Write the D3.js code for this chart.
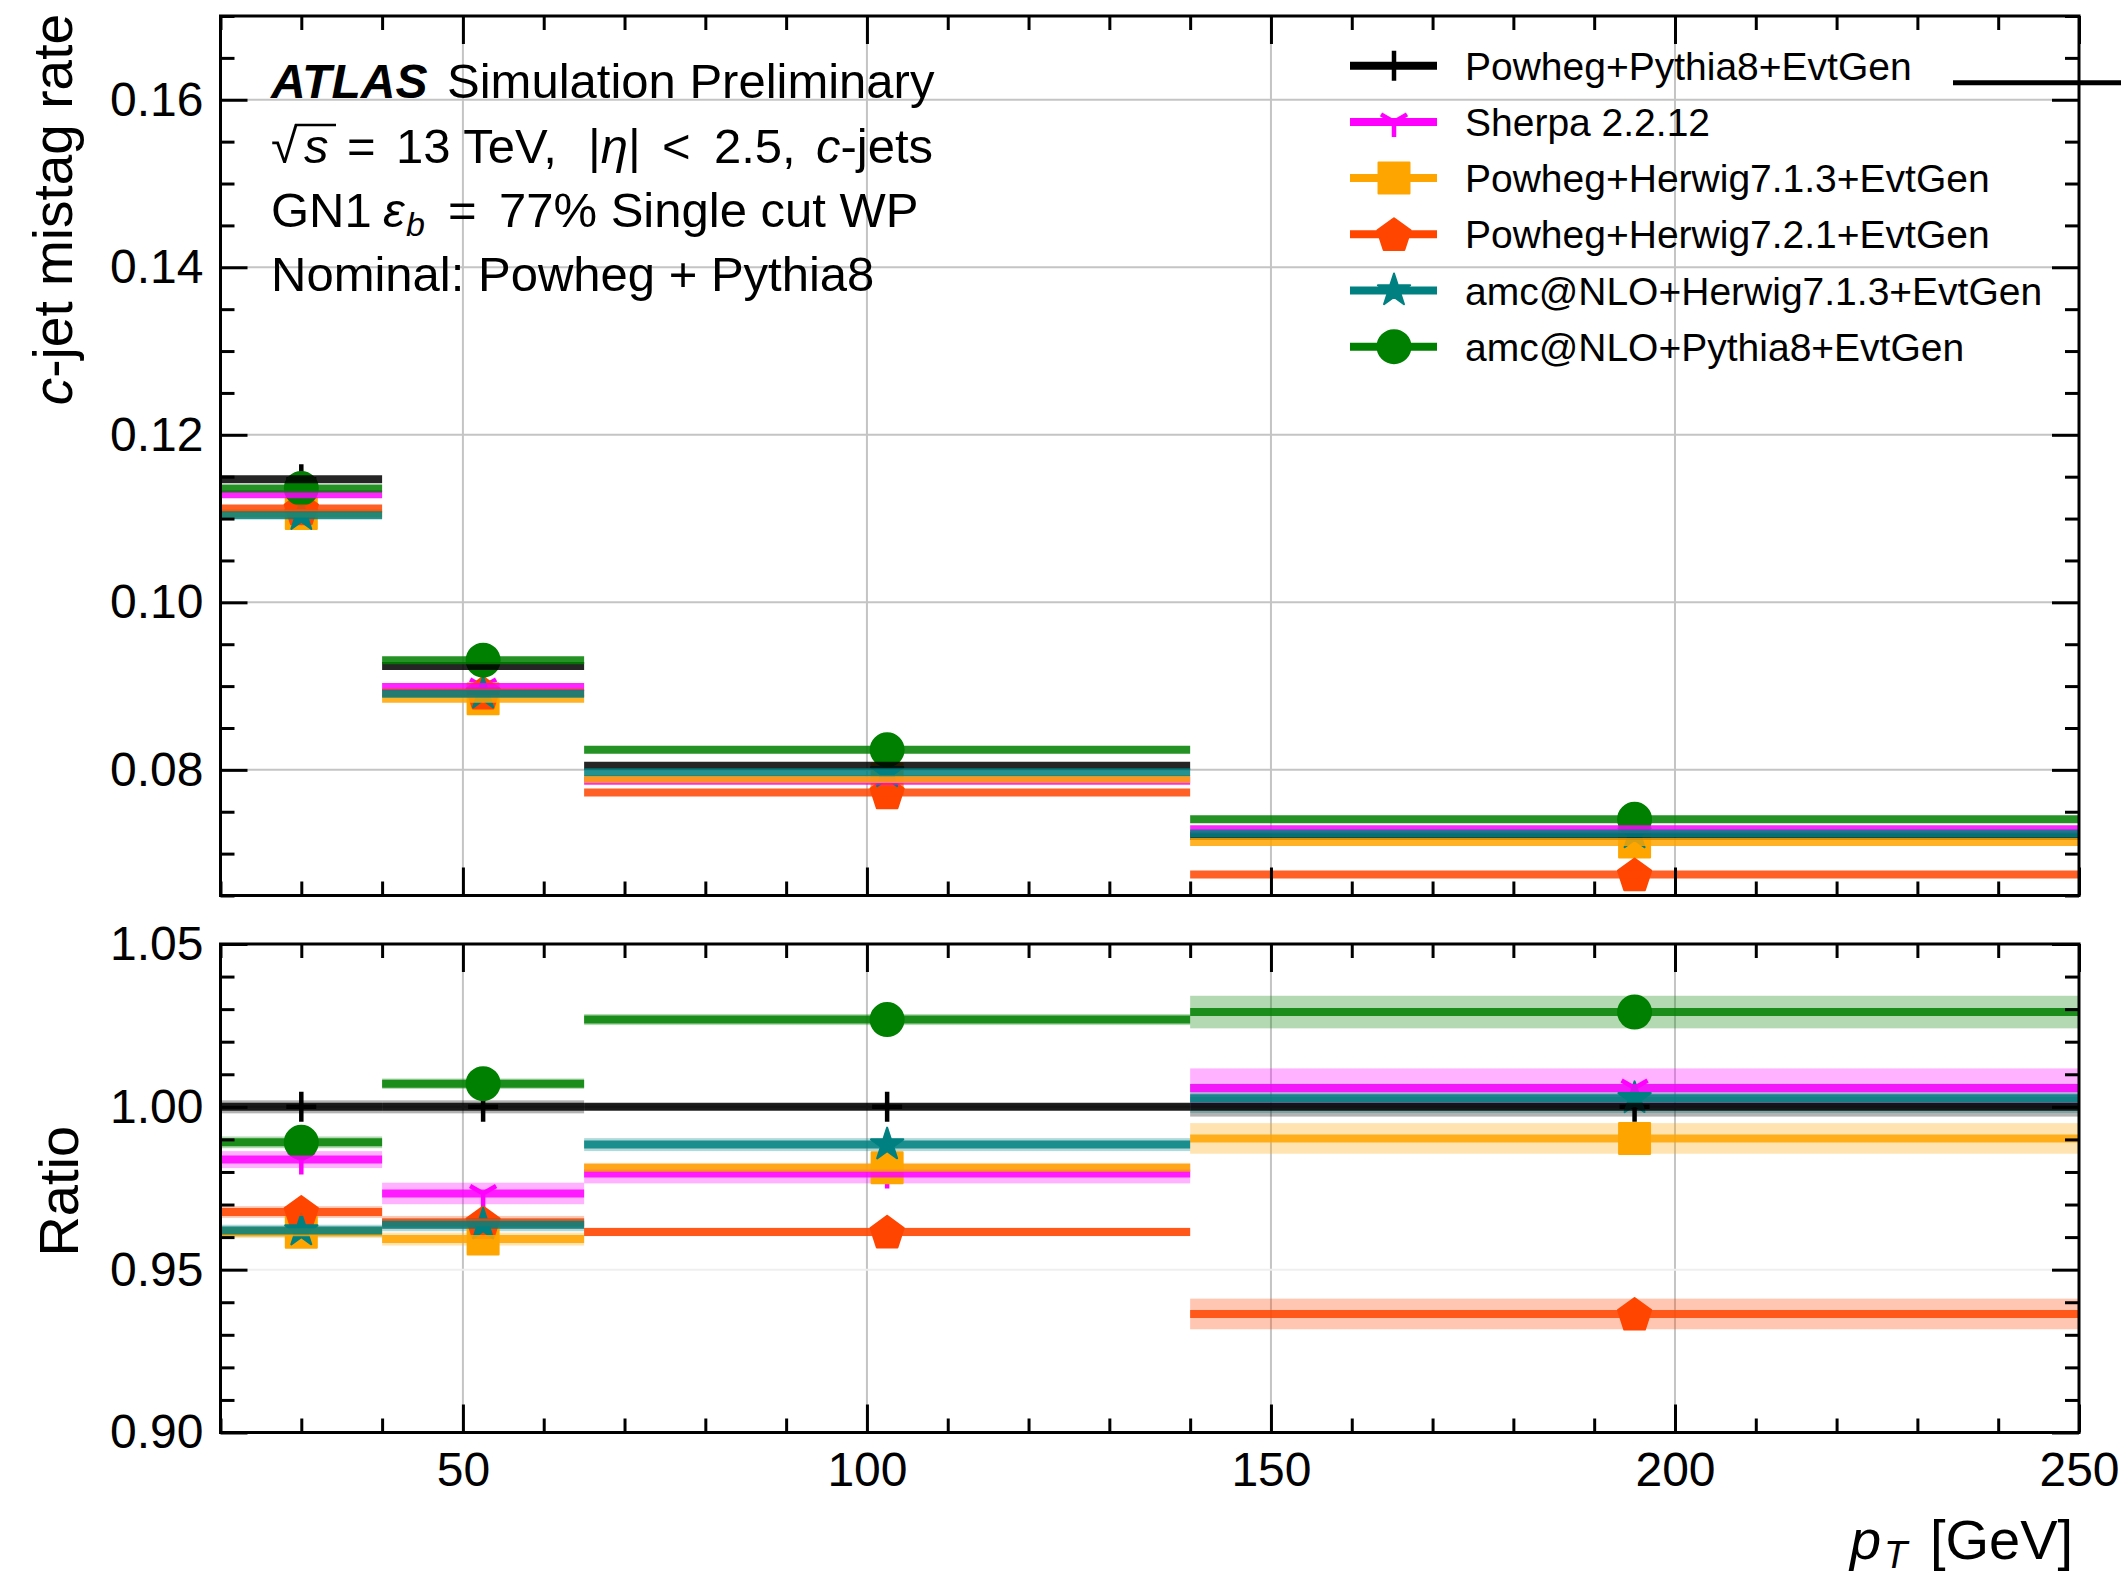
<!DOCTYPE html>
<html>
<head>
<meta charset="utf-8">
<script src="https://cdn.jsdelivr.net/npm/d3@7"></script>
<style>
  body { margin: 0; background: #fff; }
  svg { display: block; font-family: "Liberation Sans", Arial, Helvetica, sans-serif; }
</style>
</head>
<body>
<div class="chart"></div>
<script>
// pT bins [GeV] and the marker position inside each bin
const binEdges = [20, 40, 65, 140, 250];
const binCenters = [30, 52.5, 102.5, 195];

const sampleNames = [
    "Powheg+Pythia8+EvtGen",
    "Sherpa 2.2.12",
    "Powheg+Herwig7.1.3+EvtGen",
    "Powheg+Herwig7.2.1+EvtGen",
    "amc@NLO+Herwig7.1.3+EvtGen",
    "amc@NLO+Pythia8+EvtGen"
];
const sampleColors = ["#000000", "#ff00ff", "#ffa500", "#ff4500", "#008080", "#008000"];
const sampleMarkers = ["plus", "tri_down", "square", "pentagon", "star", "circle"];

// c-jet mistag rate per bin
const mistagPowhegPythia = [0.1147, 0.0924, 0.0805, 0.0721];
const mistagSherpa = [0.1129, 0.0899, 0.0787, 0.0729];
const mistagPowhegHerwig713 = [0.1106, 0.0885, 0.0789, 0.0714];
const mistagPowhegHerwig721 = [0.1112, 0.0892, 0.0773, 0.0675];
const mistagAmcHerwig713 = [0.1104, 0.0891, 0.0797, 0.0724];
const mistagAmcPythia = [0.1136, 0.0931, 0.0824, 0.0741];

// ratio to nominal (Powheg+Pythia8) and its uncertainty (half width)
const ratioPowhegPythia = [1.0, 1.0, 1.0, 1.0];
const ratioSherpa = [0.9838, 0.9734, 0.9795, 1.0058];
const ratioPowhegHerwig713 = [0.9615, 0.9594, 0.9813, 0.9903];
const ratioPowhegHerwig721 = [0.9677, 0.9645, 0.9616, 0.9364];
const ratioAmcHerwig713 = [0.9620, 0.9638, 0.9884, 1.0026];
const ratioAmcPythia = [0.9891, 1.0071, 1.0268, 1.0291];

const ratioErrPowhegPythia = [0.002, 0.002, 0.001, 0.003];
const ratioErrSherpa = [0.0026, 0.0033, 0.003, 0.006];
const ratioErrPowhegHerwig713 = [0.0018, 0.002, 0.0015, 0.0047];
const ratioErrPowhegHerwig721 = [0.0018, 0.002, 0.0013, 0.0047];
const ratioErrAmcHerwig713 = [0.0018, 0.002, 0.002, 0.0045];
const ratioErrAmcPythia = [0.0018, 0.0016, 0.0017, 0.005];

// ticks
const xMajorTicks = [50, 100, 150, 200, 250];
const xMinorTicks = [20, 30, 40, 60, 70, 80, 90, 110, 120, 130, 140, 160, 170, 180, 190, 210, 220, 230, 240];
const yMainMajorTicks = [0.08, 0.10, 0.12, 0.14, 0.16];
const yMainMinorTicks = [0.065, 0.07, 0.075, 0.085, 0.09, 0.095, 0.105, 0.11, 0.115, 0.125, 0.13, 0.135, 0.145, 0.15, 0.155, 0.165, 0.17];
const yRatioMajorTicks = [0.90, 0.95, 1.00, 1.05];
const yRatioMinorTicks = [0.91, 0.92, 0.93, 0.94, 0.96, 0.97, 0.98, 0.99, 1.01, 1.02, 1.03, 1.04];

const mistags = [mistagPowhegPythia, mistagSherpa, mistagPowhegHerwig713, mistagPowhegHerwig721, mistagAmcHerwig713, mistagAmcPythia];
const ratios = [ratioPowhegPythia, ratioSherpa, ratioPowhegHerwig713, ratioPowhegHerwig721, ratioAmcHerwig713, ratioAmcPythia];
const ratioErrs = [ratioErrPowhegPythia, ratioErrSherpa, ratioErrPowhegHerwig713, ratioErrPowhegHerwig721, ratioErrAmcHerwig713, ratioErrAmcPythia];

const series = sampleNames.map(function(name, i) {
    return {
        name: name, color: sampleColors[i], marker: sampleMarkers[i],
        bins: binCenters.map(function(c, b) {
            return {lo: binEdges[b], hi: binEdges[b + 1], center: c,
                    val: mistags[i][b], ratio: ratios[i][b], err: ratioErrs[i][b]};
        })
    };
});

const width = 2121, height = 1579;
const plotLeft = 220.5, plotRight = 2079;
const mainTop = 16, mainBottom = 895.5;
const ratioTop = 944, ratioBottom = 1432.5;

const svg = d3.select(".chart")
    .append("svg")
        .attr("width", width)
        .attr("height", height);

const x = d3.scaleLinear().domain([20, 250]).range([plotLeft, plotRight]);
const yMain = d3.scaleLinear().domain([0.065, 0.17]).range([mainBottom, mainTop]);
const yRatio = d3.scaleLinear().domain([0.90, 1.05]).range([ratioBottom, ratioTop]);

function markerPath(kind) {
    const r = 16.5;
    if (kind === "plus") return "M-15,0H15M0,-15V15";
    if (kind === "tri_down") return "M0,0V15M0,0L-13,-7.5M0,0L13,-7.5";
    if (kind === "square") return d3.symbol(d3.symbolSquare, 31 * 31)();
    if (kind === "circle") return d3.symbol(d3.symbolCircle, Math.PI * r * r)();
    if (kind === "star") return d3.symbol(d3.symbolStar, (17 * 17) / 0.8908130915292852)();
    // pentagon, point up
    const pts = d3.range(5).map(function(k) {
        const a = -Math.PI / 2 + k * 2 * Math.PI / 5;
        return [17.5 * Math.cos(a), 17.5 * Math.sin(a) + 1.5];
    });
    return "M" + pts.map(function(p) { return p[0].toFixed(2) + "," + p[1].toFixed(2); }).join("L") + "Z";
}

function styleMarker(sel, s) {
    if (s.marker === "plus" || s.marker === "tri_down") {
        sel.attr("fill", "none").attr("stroke", s.color).attr("stroke-width", 4.5);
    } else {
        sel.attr("fill", s.color).attr("stroke", s.color).attr("stroke-width", 2)
           .attr("stroke-linejoin", "round");
    }
}

function drawGrid(top, bottom, yScale, yGridVals, gridColors) {
    const g = svg.append("g");
    g.selectAll(".vgrid")
        .data([50, 100, 150, 200])
        .enter()
        .append("line")
            .attr("x1", function(d) { return x(d); })
            .attr("x2", function(d) { return x(d); })
            .attr("y1", top).attr("y2", bottom)
            .attr("stroke", "#c4c4c4")
            .attr("stroke-width", 2);
    g.selectAll(".hgrid")
        .data(yGridVals)
        .enter()
        .append("line")
            .attr("x1", plotLeft).attr("x2", plotRight)
            .attr("y1", function(d) { return yScale(d); })
            .attr("y2", function(d) { return yScale(d); })
            .attr("stroke", function(d, i) { return gridColors[i]; })
            .attr("stroke-width", 2);
}

function drawAxes(top, bottom, yScale, yMajor, yMinor, withXLabels, yFormat) {
    const g = svg.append("g");
    const axes = [
        {ax: d3.axisBottom(x).tickValues(xMajorTicks).tickSize(-28), t: "translate(0," + bottom + ")", lab: withXLabels},
        {ax: d3.axisBottom(x).tickValues(xMinorTicks).tickSize(-14), t: "translate(0," + bottom + ")", lab: false},
        {ax: d3.axisTop(x).tickValues(xMajorTicks).tickSize(-28), t: "translate(0," + top + ")", lab: false},
        {ax: d3.axisTop(x).tickValues(xMinorTicks).tickSize(-14), t: "translate(0," + top + ")", lab: false},
        {ax: d3.axisLeft(yScale).tickValues(yMajor).tickSize(-27), t: "translate(" + plotLeft + ",0)", lab: true, fmt: yFormat},
        {ax: d3.axisLeft(yScale).tickValues(yMinor).tickSize(-14), t: "translate(" + plotLeft + ",0)", lab: false},
        {ax: d3.axisRight(yScale).tickValues(yMajor).tickSize(-27), t: "translate(" + plotRight + ",0)", lab: false},
        {ax: d3.axisRight(yScale).tickValues(yMinor).tickSize(-14), t: "translate(" + plotRight + ",0)", lab: false}
    ];
    axes.forEach(function(a) {
        a.ax.tickPadding(a.fmt ? 17 : 19)
            .tickFormat(a.lab ? (a.fmt || d3.format("d")) : "");
        const ag = g.append("g").attr("transform", a.t).call(a.ax);
        ag.select(".domain").remove();
        ag.selectAll("line").attr("stroke", "#000").attr("stroke-width", 3);
        ag.selectAll("text")
            .attr("fill", "#000")
            .style("font-family", "'Liberation Sans', Arial, sans-serif")
            .style("font-size", "48px");
    });
    g.append("rect")
        .attr("x", plotLeft).attr("y", top)
        .attr("width", plotRight - plotLeft).attr("height", bottom - top)
        .attr("fill", "none").attr("stroke", "#000").attr("stroke-width", 3);
}

function drawSeries(yScale, key, withBands) {
    const g = svg.append("g");
    if (withBands) {
        series.forEach(function(s) {
            g.selectAll(null)
                .data(s.bins)
                .enter()
                .append("rect")
                    .attr("x", function(d) { return x(d.lo); })
                    .attr("width", function(d) { return x(d.hi) - x(d.lo); })
                    .attr("y", function(d) { return yScale(d[key] + d.err); })
                    .attr("height", function(d) { return yScale(d[key] - d.err) - yScale(d[key] + d.err); })
                    .attr("fill", s.color)
                    .attr("opacity", 0.3);
        });
    }
    series.forEach(function(s) {
        g.selectAll(null)
            .data(s.bins)
            .enter()
            .append("path")
                .attr("d", markerPath(s.marker))
                .attr("transform", function(d) { return "translate(" + x(d.center) + "," + yScale(d[key]) + ")"; })
                .call(styleMarker, s);
    });
    series.forEach(function(s) {
        g.selectAll(null)
            .data(s.bins)
            .enter()
            .append("line")
                .attr("x1", function(d) { return x(d.lo); })
                .attr("x2", function(d) { return x(d.hi); })
                .attr("y1", function(d) { return yScale(d[key]); })
                .attr("y2", function(d) { return yScale(d[key]); })
                .attr("stroke", s.color)
                .attr("stroke-width", 8)
                .attr("opacity", 0.85);
    });
}

// main panel
drawGrid(mainTop, mainBottom, yMain, yMainMajorTicks, yMainMajorTicks.map(function() { return "#c4c4c4"; }));
drawSeries(yMain, "val", false);
drawAxes(mainTop, mainBottom, yMain, yMainMajorTicks, yMainMinorTicks, false, d3.format(".2f"));

// ratio panel
drawGrid(ratioTop, ratioBottom, yRatio, [0.95, 1.00], ["#efefef", "#c4c4c4"]);
drawSeries(yRatio, "ratio", true);
drawAxes(ratioTop, ratioBottom, yRatio, yRatioMajorTicks, yRatioMinorTicks, true, d3.format(".2f"));

// axis titles
const ylab = svg.append("text")
    .attr("transform", "translate(72,14)rotate(-90)")
    .attr("text-anchor", "end")
    .style("font-size", "55px");
ylab.append("tspan").style("font-style", "italic").text("c");
ylab.append("tspan").text("-jet mistag rate");

svg.append("text")
    .attr("transform", "translate(78," + ((ratioTop + ratioBottom) / 2 + 3) + ")rotate(-90)")
    .attr("text-anchor", "middle")
    .style("font-size", "56px")
    .text("Ratio");

const xlab = svg.append("text")
    .attr("y", 1559)
    .style("font-size", "56px");
xlab.append("tspan").attr("x", 1850).style("font-style", "italic").text("p");
xlab.append("tspan").attr("x", 1884).attr("dy", 9).style("font-style", "italic").style("font-size", "38px").text("T");
xlab.append("tspan").attr("x", 1930).attr("dy", -9).text("[GeV]");

// ATLAS label block
const textX = 271;
const fs = "49px";
const t1 = svg.append("text").attr("x", textX).attr("y", 98).style("font-size", fs);
t1.append("tspan").style("font-weight", "bold").style("font-style", "italic").style("font-size", "48px").text("ATLAS");
t1.append("tspan").attr("x", 447).text("Simulation Preliminary");

const y2 = 163;
const t2 = svg.append("text").attr("y", y2).style("font-size", fs);
t2.append("tspan").attr("x", textX).text("\u221A");
t2.append("tspan").attr("x", 304).style("font-style", "italic").text("s");
t2.append("tspan").attr("x", 347).text("=");
t2.append("tspan").attr("x", 396).text("13 TeV,");
t2.append("tspan").attr("x", 588).text("|");
t2.append("tspan").style("font-style", "italic").text("\u03B7");
t2.append("tspan").text("|");
t2.append("tspan").attr("x", 662).text("<");
t2.append("tspan").attr("x", 714).text("2.5,");
t2.append("tspan").attr("x", 816).style("font-style", "italic").text("c");
t2.append("tspan").text("-jets");
// overline of the square root
svg.append("line")
    .attr("x1", 295).attr("x2", 336)
    .attr("y1", y2 - 38).attr("y2", y2 - 38)
    .attr("stroke", "#000").attr("stroke-width", 2.5);

const y3 = 227;
const t3 = svg.append("text").attr("y", y3).style("font-size", fs);
t3.append("tspan").attr("x", textX).text("GN1");
t3.append("tspan").attr("x", 383).style("font-style", "italic").text("\u03B5");
t3.append("tspan").attr("x", 406).attr("dy", 9).style("font-style", "italic").style("font-size", "34px").text("b");
t3.append("tspan").attr("x", 448).attr("dy", -9).text("=");
t3.append("tspan").attr("x", 499).text("77% Single cut WP");

svg.append("text").attr("x", textX).attr("y", 291).style("font-size", fs)
    .text("Nominal: Powheg + Pythia8");

// legend
const legendY0 = 65.7, legendDy = 56.2;
const legend = svg.append("g");
series.forEach(function(s, i) {
    const yy = legendY0 + i * legendDy;
    legend.append("line")
        .attr("x1", 1350).attr("x2", 1437)
        .attr("y1", yy).attr("y2", yy)
        .attr("stroke", s.color).attr("stroke-width", 8);
    legend.append("path")
        .attr("d", markerPath(s.marker))
        .attr("transform", "translate(1394," + yy + ")")
        .call(styleMarker, s);
    legend.append("text")
        .attr("x", 1465).attr("y", yy)
        .attr("dy", "0.36em")
        .style("font-size", "39px")
        .text(s.name);
});
// stray legend stroke at the top right edge
legend.append("line")
    .attr("x1", 1953).attr("x2", width)
    .attr("y1", legendY0 + 17).attr("y2", legendY0 + 17)
    .attr("stroke", "#000").attr("stroke-width", 5);
</script>
</body>
</html>
